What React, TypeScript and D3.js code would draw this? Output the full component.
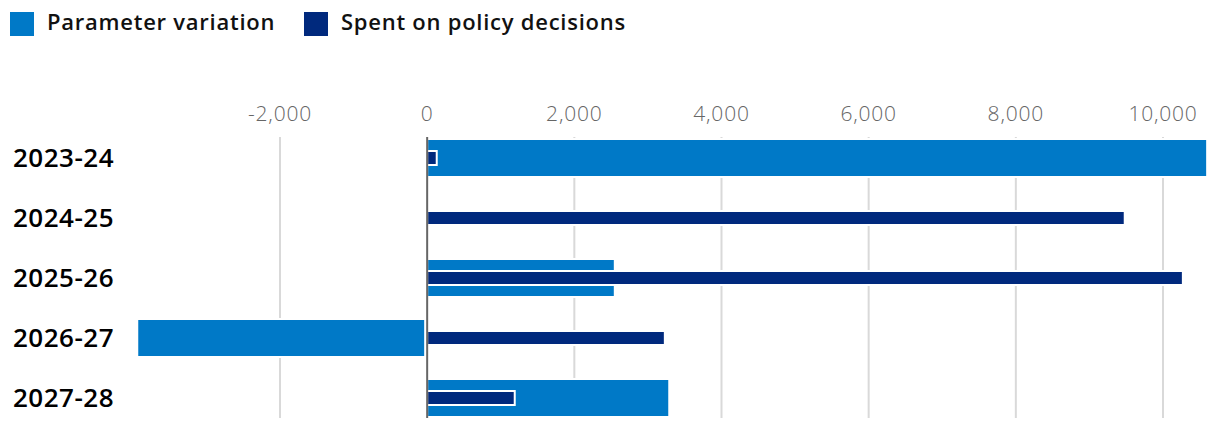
import React, { useEffect, useRef } from "react";
import * as d3 from "d3";

const categories = ["2023-24", "2024-25", "2025-26", "2026-27", "2027-28"];
const parameterVariation = [10600, 0, 2550, -3940, 3290];
const policyDecisions = [130, 9480, 10270, 3230, 1190];
const tickValues = [-2000, 0, 2000, 4000, 6000, 8000, 10000];
const seriesNames = ["Parameter variation", "Spent on policy decisions"];
const seriesColors = ["#0079C7", "#00297D"];

const W = 1220;
const H = 434;

export default function App() {
  const ref = useRef<SVGSVGElement>(null);

  useEffect(() => {
    const svg = d3.select(ref.current);
    svg.selectAll("*").remove();

    const x = d3.scaleLinear().domain([-2000, 10000]).range([280, 1163]);
    const y = d3.scaleBand<string>().domain(categories).range([128, 428]).padding(0);
    const x0 = x(0);
    const fmt = (v: number) => d3.format(",")(v).replace("\u2212", "-");

    // Legend
    const legendX = [10, 304];
    const lg = svg.append("g");
    seriesNames.forEach((name, i) => {
      lg.append("rect")
        .attr("x", legendX[i])
        .attr("y", 12)
        .attr("width", 24)
        .attr("height", 24)
        .attr("fill", seriesColors[i]);
      lg.append("text")
        .attr("x", legendX[i] + 37)
        .attr("y", 30)
        .attr("font-family", "'Open Sans', sans-serif")
        .attr("font-weight", 600)
        .attr("font-size", 22)
        .attr("letter-spacing", 0.75)
        .attr("fill", "#111")
        .text(name);
    });

    // Gridlines
    const gridTop = 137;
    const gridBottom = 418;
    svg.append("g")
      .selectAll("line")
      .data(tickValues.filter((t) => t !== 0))
      .join("line")
      .attr("x1", (d) => x(d))
      .attr("x2", (d) => x(d))
      .attr("y1", gridTop)
      .attr("y2", gridBottom)
      .attr("stroke", "#d9d9d9")
      .attr("stroke-width", 2);

    // Tick labels
    svg.append("g")
      .selectAll("text")
      .data(tickValues)
      .join("text")
      .attr("x", (d) => x(d))
      .attr("y", 121)
      .attr("text-anchor", "middle")
      .attr("font-family", "'Open Sans', sans-serif")
      .attr("font-weight", 300)
      .attr("font-size", 21)
      .attr("letter-spacing", 0.8)
      .attr("fill", "#666")
      .text((d) => fmt(d));

    // Category labels
    svg.append("g")
      .selectAll("text")
      .data(categories)
      .join("text")
      .attr("x", 13)
      .attr("y", (d) => (y(d) as number) + y.bandwidth() / 2 + 9)
      .attr("font-family", "'Open Sans', sans-serif")
      .attr("font-weight", 600)
      .attr("font-size", 26)
      .attr("letter-spacing", 0.5)
      .attr("fill", "#000")
      .text((d) => d);

    // Parameter variation bars
    const lightH = 38;
    svg.append("g")
      .selectAll("rect")
      .data(categories.map((c, i) => ({ c, v: parameterVariation[i] })).filter((d) => d.v !== 0))
      .join("rect")
      .attr("x", (d) => (d.v >= 0 ? x0 : x(d.v)))
      .attr("width", (d) => (d.v >= 0 ? x(d.v) - x0 : x0 - 2 - x(d.v)))
      .attr("y", (d) => (y(d.c) as number) + y.bandwidth() / 2 - lightH / 2)
      .attr("height", lightH)
      .attr("fill", seriesColors[0])
      .attr("stroke", "#fff")
      .attr("stroke-width", 2);

    // Policy decision bars
    const darkH = 14;
    svg.append("g")
      .selectAll("rect")
      .data(categories.map((c, i) => ({ c, v: policyDecisions[i] })))
      .join("rect")
      .attr("x", (d) => Math.min(x0, x(d.v)))
      .attr("width", (d) => Math.abs(x(d.v) - x0))
      .attr("y", (d) => (y(d.c) as number) + y.bandwidth() / 2 - darkH / 2)
      .attr("height", darkH)
      .attr("fill", seriesColors[1])
      .attr("stroke", "#fff")
      .attr("stroke-width", 2);

    // Zero line
    svg.append("line")
      .attr("x1", x0)
      .attr("x2", x0)
      .attr("y1", gridTop)
      .attr("y2", gridBottom)
      .attr("stroke", "#666")
      .attr("stroke-width", 2);
  }, []);

  return (
    <div style={{ position: "absolute", left: 0, top: 0 }}>
      <svg ref={ref} width={W} height={H} style={{ display: "block", background: "#fff" }} />
    </div>
  );
}
